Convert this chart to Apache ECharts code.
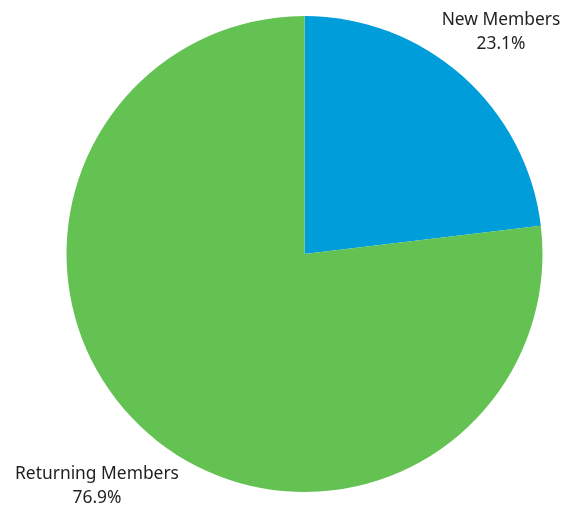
<!DOCTYPE html>
<html>
<head>
<meta charset="utf-8">
<script src="https://cdn.jsdelivr.net/npm/echarts@6/dist/echarts.min.js"></script>
<style>
html,body{margin:0;padding:0;background:#fff;}
#chart{width:577px;height:508px;}
</style>
</head>
<body>
<div id="chart"></div>
<script>
const categories = ['New Members', 'Returning Members'];
const values = [23.1, 76.9];
const colors = ['#009ddb', '#63c251'];

const labelPos = [[501, 32.5], [97, 486.5]];

const chart = echarts.init(document.getElementById('chart'), null, {renderer: 'canvas'});
chart.setOption({
  animation: false,
  backgroundColor: '#ffffff',
  series: [{
    type: 'pie',
    center: [304.5, 254],
    radius: [0, 238],
    startAngle: 90,
    clockwise: true,
    avoidLabelOverlap: false,
    data: categories.map((c, i) => ({name: c, value: values[i], itemStyle: {color: colors[i]}})),
    label: {
      show: true,
      position: 'outside',
      formatter: p => p.name + '\n' + p.value.toFixed(1) + '%',
      fontFamily: 'Noto Sans',
      fontSize: 17.4,
      lineHeight: 24,
      color: '#1f1f1f',
      align: 'center'
    },
    labelLine: {show: false},
    labelLayout: function (p) {
      const pos = labelPos[p.dataIndex];
      return {x: pos[0], y: pos[1], align: 'center', verticalAlign: 'middle'};
    },
    emphasis: {disabled: true}
  }]
});
</script>
</body>
</html>
